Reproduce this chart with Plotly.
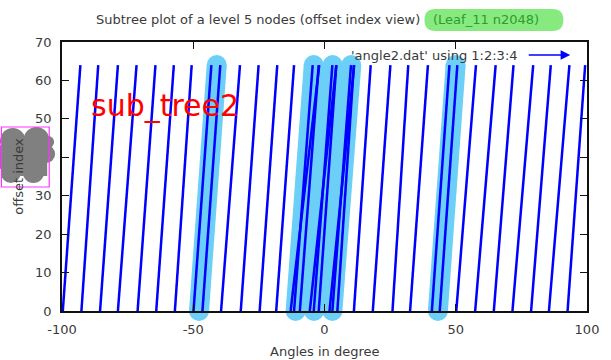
import plotly.graph_objects as go

# ---- data: gnuplot "using 1:2:3:4" -> angle, offset, d_angle, d_offset
angle = [-99.7, -92.6, -85.5, -78.7, -71.2, -64.1, -57.0, -49.9, -46.5, -39.4, -31.9,
         -24.7, -18.4, -11.6, -9.4, -12.9, -4.1, -2.2, -5.6, 3.0, 4.9, 1.9, 11.2, 18.4,
         25.9, 32.6, 40.9, 43.9, 50.2, 57.4, 64.5, 71.6, 78.7, 85.5, 92.6]
d_angle = [6.7, 6.4, 6.8, 7.1, 6.8, 6.7, 6.4, 6.8, 6.8, 7.2, 6.8,
           6.7, 6.8, 7.1, 7.2, 10.9, 7.1, 6.7, 10.1, 7.1, 6.3, 9.4, 6.4, 6.7,
           6.0, 6.8, 6.7, 6.7, 7.5, 7.8, 7.5, 7.9, 7.5, 7.8, 6.7]
offset = [0] * len(angle)
d_offset = [64] * len(angle)

# highlighted sub-tree vectors (angle, d_angle)
hl_angle = [-47.8, -11.0, -4.0, 3.0, 43.2]
hl_d_angle = [6.75, 6.9, 7.1, 7.2, 6.75]
hl_offset = [0, 0, 0, 0, 0]
hl_d_offset = [64, 64, 64, 64, 64]

x_ticks = [-100, -50, 0, 50, 100]
y_ticks = [0, 10, 20, 30, 40, 50, 60, 70]

W, H = 611, 360
ML, MR, MT, MB = 62, 16, 42, 49
PW, PH = W - ML - MR, H - MT - MB


def px(x):
    return (x - ML) / PW


def py(y):
    return (H - MB - y) / PH


FONT = "DejaVu Sans"
TXT = "#3a3a3a"
HL = "#6ccff7"

fig = go.Figure()

# highlight strokes
hx, hy = [], []
for a, o, da, do in zip(hl_angle, hl_offset, hl_d_angle, hl_d_offset):
    hx += [a, a + da, None]
    hy += [o, o + do, None]
fig.add_trace(go.Scatter(x=hx, y=hy, mode="lines+markers",
                         line=dict(color=HL, width=20),
                         marker=dict(size=20, color=HL, line=dict(width=0)),
                         cliponaxis=False, hoverinfo="skip", showlegend=False))

# vectors
vx, vy = [], []
for a, o, da, do in zip(angle, offset, d_angle, d_offset):
    vx += [a, a + da, None]
    vy += [o, o + do, None]
fig.add_trace(go.Scatter(x=vx, y=vy, mode="lines",
                         line=dict(color="#0000ff", width=2.5),
                         hoverinfo="skip", showlegend=False))

shapes = []
# title pill
shapes.append(dict(type="path", xref="paper", yref="paper",
                   path=(f"M {px(441)} {py(9)} L {px(560)} {py(9)} "
                         f"Q {px(571)} {py(9)} {px(571)} {py(20)} "
                         f"Q {px(571)} {py(31)} {px(560)} {py(31)} "
                         f"L {px(441)} {py(31)} "
                         f"Q {px(430)} {py(31)} {px(430)} {py(20)} "
                         f"Q {px(430)} {py(9)} {px(441)} {py(9)} Z"),
                   fillcolor="#86ea7e", line=dict(width=0), layer="above"))
# grey blob behind the y label
GR = "#808080"
shapes.append(dict(type="rect", xref="paper", yref="paper",
                   x0=px(0), x1=px(47), y0=py(138), y1=py(176),
                   fillcolor=GR, line=dict(width=0), layer="above"))
for cx, cy, r in [(12, 141, 13), (36, 140, 13), (46, 154, 9), (10, 173, 10),
                  (33, 172, 11), (2, 157, 12), (48, 142, 6)]:
    shapes.append(dict(type="circle", xref="paper", yref="paper",
                       x0=px(cx - r), x1=px(cx + r), y0=py(cy + r), y1=py(cy - r),
                       fillcolor=GR, line=dict(width=0), layer="above"))
shapes.append(dict(type="rect", xref="paper", yref="paper",
                   x0=px(0.5), x1=px(49), y0=py(127), y1=py(187),
                   fillcolor="rgba(0,0,0,0)", line=dict(color="#ff33ff", width=1.2),
                   layer="above"))

annotations = [
    dict(text="Subtree plot of a level 5 nodes (offset index view)", x=px(427), y=py(19),
         xref="paper", yref="paper", xanchor="right", yanchor="middle", showarrow=False,
         font=dict(family=FONT, size=13, color=TXT)),
    dict(text="(Leaf_11 n2048)", x=px(437), y=py(19),
         xref="paper", yref="paper", xanchor="left", yanchor="middle", showarrow=False,
         font=dict(family=FONT, size=13, color="#2f9a2f")),
    dict(text="sub_tree2", x=px(167), y=py(105), xref="paper", yref="paper",
         xanchor="center", yanchor="middle", showarrow=False,
         font=dict(family=FONT, size=30, color="#ff0000")),
    dict(text="'angle2.dat' using 1:2:3:4", x=px(527), y=py(55), xref="paper", yref="paper",
         xanchor="right", yanchor="middle", showarrow=False,
         font=dict(family=FONT, size=13, color=TXT)),
    dict(text="", x=px(578), y=py(55), xref="paper", yref="paper",
         ax=-43, ay=0, showarrow=True, arrowhead=2, arrowsize=1.2, arrowwidth=1.6,
         arrowcolor="#0000ff"),
    dict(text="Angles in degree", x=px(328), y=py(351), xref="paper", yref="paper",
         xanchor="center", yanchor="middle", showarrow=False,
         font=dict(family=FONT, size=13, color=TXT)),
    dict(text="offset index", x=px(17), y=py(176), xref="paper", yref="paper",
         xanchor="center", yanchor="middle", showarrow=False, textangle=-90,
         font=dict(family=FONT, size=13, color=TXT)),
]

fig.update_layout(
    width=W, height=H,
    margin=dict(l=ML, r=MR, t=MT, b=MB, pad=0),
    paper_bgcolor="white", plot_bgcolor="white",
    shapes=shapes, annotations=annotations, showlegend=False,
    font=dict(family=FONT, size=13, color=TXT),
)
fig.update_xaxes(range=[-100, 100], tickvals=x_ticks, ticktext=[str(v) for v in x_ticks],
                 ticks="inside", ticklen=7, tickcolor="#111", tickwidth=1.3,
                 showline=True, linecolor="#111", linewidth=1.6, mirror="ticks",
                 showgrid=False, zeroline=False, ticklabelstandoff=6,
                 tickfont=dict(family=FONT, size=13, color=TXT))
fig.update_yaxes(range=[0, 70], tickvals=y_ticks, ticktext=[str(v) for v in y_ticks],
                 ticks="inside", ticklen=7, tickcolor="#111", tickwidth=1.3,
                 showline=True, linecolor="#111", linewidth=1.6, mirror="ticks",
                 showgrid=False, zeroline=False, ticklabelstandoff=6,
                 tickfont=dict(family=FONT, size=13, color=TXT))

fig.write_html("out.html", config={"displayModeBar": False},
               post_script="document.body.style.margin='0';document.body.style.overflow='hidden';")
